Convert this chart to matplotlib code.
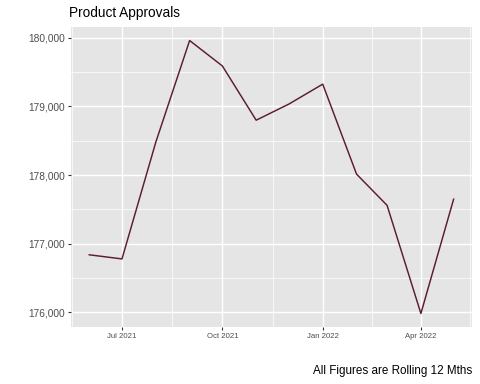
import matplotlib
matplotlib.use("Agg")
import matplotlib.pyplot as plt
import matplotlib.dates as mdates
import matplotlib.ticker as mticker
import numpy as np
import datetime as dt

plt.rcParams["font.family"] = ["Liberation Sans", "DejaVu Sans"]

# monthly rolling 12 month approvals
months = ["2021-06-01", "2021-07-01", "2021-08-01", "2021-09-01", "2021-10-01", "2021-11-01",
          "2021-12-01", "2022-01-01", "2022-02-01", "2022-03-01", "2022-04-01", "2022-05-01"]
approvals = [176840, 176780, 178480, 179960, 179590, 178800,
             179035, 179325, 178015, 177560, 175985, 177650]

major_ticks = ["2021-07-01", "2021-10-01", "2022-01-01", "2022-04-01"]
major_labels = ["Jul 2021", "Oct 2021", "Jan 2022", "Apr 2022"]
minor_ticks = ["2021-05-16", "2021-08-16", "2021-11-16", "2022-02-15", "2022-05-16"]

dates = [dt.datetime.strptime(m, "%Y-%m-%d") for m in months]
x = mdates.date2num(dates)

fig = plt.figure(figsize=(4.8, 3.84), dpi=100)
ax = fig.add_axes([0.148, 0.148, 0.835, 0.782])
ax.set_facecolor("#E5E5E5")

ax.plot(x, approvals, color="#5C1A33", lw=1.05, zorder=3)

# ggplot style 5% expansion
xr = x.max() - x.min()
ax.set_xlim(x.min() - 0.05 * xr, x.max() + 0.05 * xr)
yr = max(approvals) - min(approvals)
ax.set_ylim(min(approvals) - 0.05 * yr, max(approvals) + 0.05 * yr)

ax.set_xticks(mdates.date2num([dt.datetime.strptime(t, "%Y-%m-%d") for t in major_ticks]))
ax.set_xticklabels(major_labels)
ax.set_xticks(mdates.date2num([dt.datetime.strptime(t, "%Y-%m-%d") for t in minor_ticks]), minor=True)
ax.set_yticks([176000, 177000, 178000, 179000, 180000])
ax.set_yticks([176500, 177500, 178500, 179500], minor=True)
ax.yaxis.set_major_formatter(mticker.FuncFormatter(lambda v, p: f"{int(v):,}"))

ax.grid(which="major", color="white", lw=1.0, zorder=0)
ax.grid(which="minor", color="white", lw=0.5, zorder=0)
ax.set_axisbelow(True)

for s in ax.spines.values():
    s.set_visible(False)

ax.tick_params(axis="both", which="major", length=2.5, width=0.8, color="#333333", pad=2)
ax.tick_params(axis="both", which="minor", length=0)
ax.tick_params(axis="y", labelsize=7.3, labelcolor="#4D4D4D")
ax.tick_params(axis="x", labelsize=5.6, labelcolor="#4D4D4D")

fig.text(0.144, 0.966, "Product Approvals", fontsize=9.8, ha="left", va="center", color="black")
fig.text(0.983, 0.035, "All Figures are Rolling 12 Mths", fontsize=8.4, ha="right", va="center",
         color="black")

fig.savefig("out.png", dpi=100)
